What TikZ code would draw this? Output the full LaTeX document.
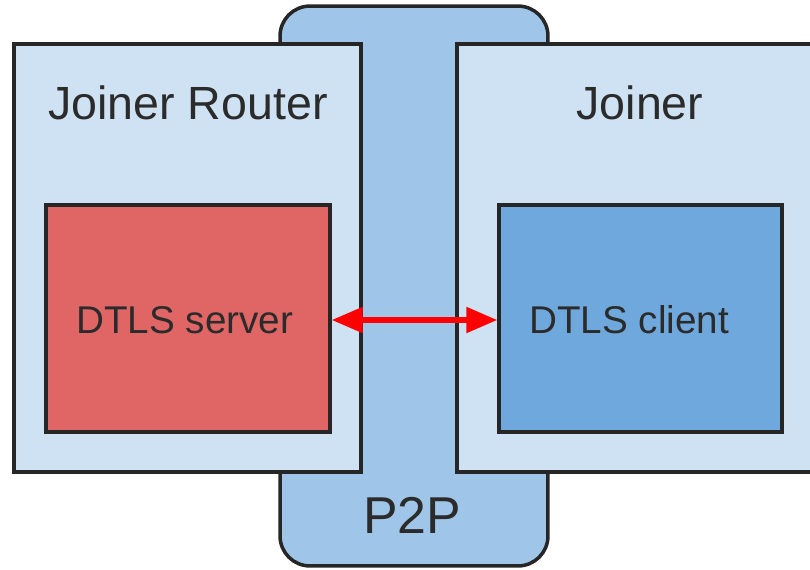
\documentclass[tikz,border=0pt]{standalone}
\usepackage{fontspec}
\setmainfont{Liberation Sans}
\usepackage[svgnames]{xcolor}
\usetikzlibrary{arrows.meta}
\definecolor{paleblue}{HTML}{CFE2F3}
\definecolor{midblue}{HTML}{9FC5E8}
\definecolor{serverred}{HTML}{E06666}
\definecolor{clientblue}{HTML}{6FA8DC}
\definecolor{inkgray}{HTML}{2B2B2B}
\tikzset{
  box/.style={draw=black!85, line width=2pt, inner sep=0pt},
  title/.style={text=inkgray, font=\fontsize{26.5}{30}\selectfont},
  inner/.style={text=inkgray, font=\fontsize{22}{26}\selectfont}
}

\begin{document}
\begin{tikzpicture}[x=0.02cm, y=-0.02cm]
\useasboundingbox (0,0) rectangle (810,569);
\node[box, fill=midblue, rounded corners=0.6cm, minimum width=5.36cm, minimum height=11.2cm] (ptp) at (414,286) {};
\node[box, fill=paleblue, minimum width=6.94cm, minimum height=8.56cm] (router) at (187.5,258) {};
\node[box, fill=paleblue, minimum width=7.32cm, minimum height=8.56cm] (joiner) at (640,258) {};
\node[box, fill=serverred, minimum width=5.68cm, minimum height=4.54cm] (server) at (188,318.5) {};
\node[box, fill=clientblue, minimum width=5.66cm, minimum height=4.54cm] (client) at (640.5,318.5) {};
\node[title] (routertext) at (188,103) {Joiner Router};
\node[title] (joinertext) at (640,103) {Joiner};
\node[inner, anchor=west] (servertext) at (70,320) {DTLS server};
\node[inner, anchor=west] (clienttext) at (523,320) {DTLS client};
\node[title, font=\fontsize{29.5}{33}\selectfont] (ptptext) at (412,515) {P2P};
\draw[red, line width=3pt, {Triangle[length=0.62cm, width=0.5cm]}-{Triangle[length=0.62cm, width=0.5cm]}]
  (server.east |- 0,320) -- (client.west |- 0,320);
\end{tikzpicture}
\end{document}
